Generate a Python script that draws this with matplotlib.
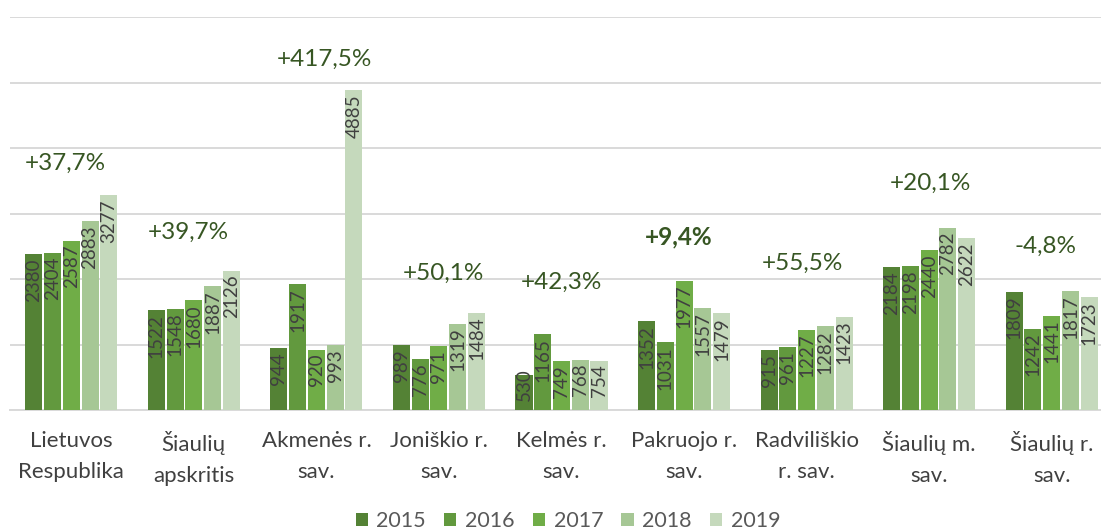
import matplotlib

matplotlib.use("Agg")
import matplotlib.pyplot as plt
import numpy as np

categories = [
    "Lietuvos\nRespublika",
    "Šiaulių\napskritis",
    "Akmenės r.\nsav.",
    "Joniškio r.\nsav.",
    "Kelmės r.\nsav.",
    "Pakruojo r.\nsav.",
    "Radviliškio\nr. sav.",
    "Šiaulių m.\nsav.",
    "Šiaulių r.\nsav.",
]
years = ["2015", "2016", "2017", "2018", "2019"]
values = {
    "2015": [2380, 1522, 944, 989, 530, 1352, 915, 2184, 1809],
    "2016": [2404, 1548, 1917, 776, 1165, 1031, 961, 2198, 1242],
    "2017": [2587, 1680, 920, 971, 749, 1977, 1227, 2440, 1441],
    "2018": [2883, 1887, 993, 1319, 768, 1557, 1282, 2782, 1817],
    "2019": [3277, 2126, 4885, 1484, 754, 1479, 1423, 2622, 1723],
}
changes = ["+37,7%", "+39,7%", "+417,5%", "+50,1%", "+42,3%", "+9,4%", "+55,5%", "+20,1%", "-4,8%"]
bold_change = "+9,4%"

colors = ["#548235", "#62993e", "#70ad47", "#a6c795", "#c5d9bc"]
# pixel offsets of the change labels relative to the top of the tallest bar
label_dx = [-6, -6, 8, 4, 0, -5, -4, 1, -6]
label_dy = [32, 38, 31, 39, 51, 44, 53, 44, 45]
# labels of very short bars get pushed up so they still fit
min_label_top = 700

plt.rcParams["font.family"] = ["Lato", "DejaVu Sans"]

fig = plt.figure(figsize=(11.01, 5.31), dpi=100)
ax = fig.add_axes([10 / 1101, 121 / 531, 1103 / 1101, 393 / 531])

x = np.arange(len(categories))
pitch = 0.153
width = 0.139
for i, year in enumerate(years):
    pos = x + (i - 2) * pitch
    ax.bar(pos, values[year], width=width, color=colors[i], label=year, zorder=3)
    for px, v in zip(pos, values[year]):
        ax.annotate(str(v), (px, max(v, min_label_top)), xytext=(0, -4),
                    textcoords="offset pixels", rotation=90, ha="center",
                    va="top", fontsize=13.5, color="#404040", zorder=4)

group_max = np.max([values[y] for y in years], axis=0)
for i, label in enumerate(changes):
    ax.annotate(label, (x[i], group_max[i]), xytext=(label_dx[i], label_dy[i]),
                textcoords="offset pixels", ha="center", va="center",
                fontsize=17.5, color="#375623",
                fontweight="bold" if label == bold_change else "normal")

ax.set_xlim(-0.5, len(categories) - 0.5)
ax.set_ylim(0, 6000)
ax.set_yticks(np.arange(0, 6001, 1000))
ax.yaxis.grid(True, color="#d9d9d9", linewidth=1.4, zorder=0)
ax.set_yticklabels([])
ax.tick_params(axis="y", length=0)
ax.set_xticks(x)
ax.set_xticklabels(categories, fontsize=16, color="#404040", linespacing=1.7)
ax.tick_params(axis="x", length=0, pad=15)
for side in ["top", "right", "left"]:
    ax.spines[side].set_visible(False)
ax.spines["bottom"].set_color("#d9d9d9")
ax.spines["bottom"].set_linewidth(1.4)

fig.legend(loc="center", bbox_to_anchor=(568 / 1101, 1 - 521 / 531), ncol=5,
           frameon=False, fontsize=15.5, labelcolor="#595959", handlelength=0.56,
           handleheight=0.56, handletextpad=0.4, columnspacing=0.85)

fig.savefig("out.png", dpi=100)
